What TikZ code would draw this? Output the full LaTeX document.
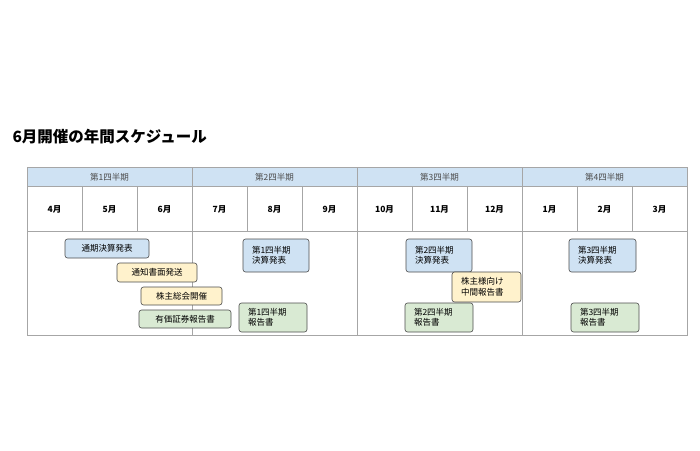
\documentclass[tikz,border=0pt]{standalone}
\usepackage{fontspec}
\setmainfont{Noto Sans CJK JP}
\definecolor{cblue}{RGB}{207,226,243}
\definecolor{cyel}{RGB}{255,242,204}
\definecolor{cgreen}{RGB}{217,234,211}
\begin{document}
\begin{tikzpicture}[x=1pt,y=-1pt,
  grid/.style={draw=black!35,line width=0.6pt},
  ev/.style={draw=black!70,line width=0.6pt,rounded corners=2.5pt,font=\fontsize{8.5}{10.5}\selectfont,inner sep=0pt},
  bl/.style={ev,fill=cblue},
  ye/.style={ev,fill=cyel},
  gr/.style={ev,fill=cgreen},
  mon/.style={font=\bfseries\fontsize{8.5}{10}\selectfont},
  qt/.style={font=\fontsize{8.5}{10}\selectfont,text=black!70}]
\useasboundingbox (0,0) rectangle (700,450);
\node[anchor=west,font=\bfseries\fontsize{15.5}{18}\selectfont] (title) at (9,137) {6月開催の年間スケジュール};
\fill[cblue] (27,167) rectangle (687,186);
\draw[grid] (27,167) rectangle (687,335);
\draw[grid] (27,186) -- (687,186);
\draw[grid] (27,231) -- (687,231);
\foreach \i in {1,...,11}{\draw[grid] (27+55*\i,186) -- (27+55*\i,231);}
\foreach \q in {1,2,3}{\draw[grid] (27+165*\q,167) -- (27+165*\q,335);}
\foreach \q in {1,2,3,4}{\node[qt] (q\q) at (27+165*\q-82.5,177) {第\q 四半期};}
\foreach \m [count=\i from 0] in {4,5,6,7,8,9,10,11,12,1,2,3}{\node[mon] (m\i) at (54.5+55*\i,209) {\m 月};}
\node[bl,minimum width=84pt,minimum height=19pt] (a) at (107,248.5) {通期決算発表};
\node[ye,minimum width=80pt,minimum height=19pt] (b) at (157,272.5) {通知書面発送};
\node[ye,minimum width=81pt,minimum height=18pt] (c) at (181.5,296) {株主総会開催};
\node[gr,minimum width=92pt,minimum height=18pt] (d) at (185,319) {有価証券報告書};
\newcommand{\ebox}[7]{\node[#1,minimum width=#4-#2,minimum height=#5-#3,align=left,text width=#4-#2-18,inner sep=0pt] (#6) at ({(#2+#4)/2},{(#3+#5)/2}) {#7};}
\ebox{bl}{243}{239}{309}{272}{e}{第1四半期\\決算発表}
\ebox{gr}{239}{303}{307}{332}{f}{第1四半期\\報告書}
\ebox{bl}{406}{239}{472}{272}{g}{第2四半期\\決算発表}
\ebox{ye}{452}{272}{521}{302}{h}{株主様向け\\中間報告書}
\ebox{gr}{405}{303}{473}{332}{i}{第2四半期\\報告書}
\ebox{bl}{569}{239}{636}{272}{j}{第3四半期\\決算発表}
\ebox{gr}{571}{303}{639}{332}{k}{第3四半期\\報告書}
\end{tikzpicture}
\end{document}
